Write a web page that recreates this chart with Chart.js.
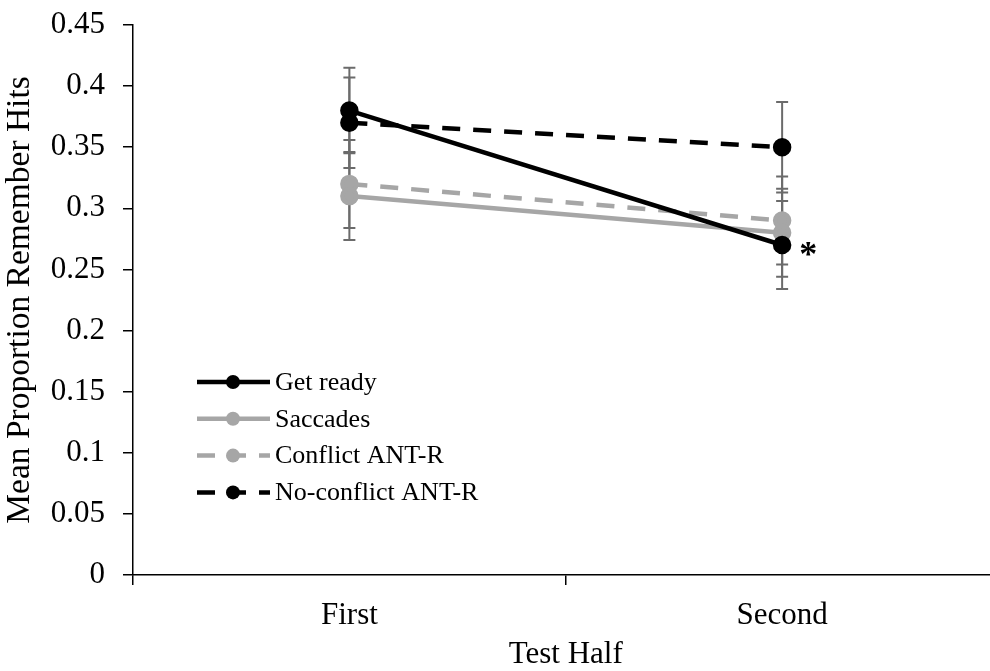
<!DOCTYPE html>
<html>
<head>
<meta charset="utf-8">
<script src="https://cdn.jsdelivr.net/npm/chart.js@4.4.1/dist/chart.umd.min.js"></script>
<style>
  html, body { margin: 0; padding: 0; background: #fff; overflow: hidden; }
  #wrap { width: 1010px; height: 671px; position: relative; }
</style>
</head>
<body>
<div id="wrap"><canvas id="chart"></canvas></div>
<script>
// Mean proportion of remember hits by test half

const categories = ['First', 'Second'];
const getReady = [0.38, 0.27];
const saccades = [0.31, 0.28];
const conflictAnt = [0.32, 0.29];
const noConflictAnt = [0.37, 0.35];

// error bar half-lengths (same order as above)
const getReadyErr = [0.035, 0.036];
const saccadesErr = [0.036, 0.036];
const conflictAntErr = [0.036, 0.036];
const noConflictAntErr = [0.037, 0.037];

const yTicks = [0, 0.05, 0.1, 0.15, 0.2, 0.25, 0.3, 0.35, 0.4, 0.45];

const FONT = "'Liberation Serif', 'Times New Roman', serif";
const GRAY = '#a6a6a6';

function series(label, data, err, color, dashed) {
  return {
    label: label,
    data: data,
    errors: err,
    borderColor: color,
    backgroundColor: color,
    pointBackgroundColor: color,
    pointBorderColor: color,
    borderWidth: 4.5,
    borderDash: dashed ? [18, 13] : [],
    pointRadius: 7,
    pointHoverRadius: 7,
    tension: 0,
    fill: false
  };
}

const errorBars = {
  id: 'errorBars',
  beforeDatasetsDraw(chart) {
    const ctx = chart.ctx;
    const y = chart.scales.y;
    ctx.save();
    ctx.strokeStyle = '#6b6b6b';
    ctx.lineWidth = 2;
    chart.data.datasets.forEach((ds, i) => {
      const meta = chart.getDatasetMeta(i);
      meta.data.forEach((pt, j) => {
        const v = ds.data[j], e = ds.errors[j];
        const top = y.getPixelForValue(v + e);
        const bot = y.getPixelForValue(v - e);
        ctx.beginPath();
        ctx.moveTo(pt.x, top); ctx.lineTo(pt.x, bot);
        ctx.moveTo(pt.x - 6, top); ctx.lineTo(pt.x + 6, top);
        ctx.moveTo(pt.x - 6, bot); ctx.lineTo(pt.x + 6, bot);
        ctx.stroke();
      });
    });
    ctx.restore();
  }
};

const extras = {
  id: 'extras',
  afterDraw(chart) {
    const ctx = chart.ctx;
    const area = chart.chartArea;
    ctx.save();
    // legend
    const x0 = area.left + 64, rowY = 382, step = 36.8;
    chart.data.datasets.forEach((ds, i) => {
      const yy = rowY + i * step;
      ctx.strokeStyle = ds.borderColor;
      ctx.fillStyle = ds.borderColor;
      ctx.lineWidth = 4.5;
      ctx.setLineDash(ds.borderDash);
      ctx.beginPath();
      ctx.moveTo(x0, yy); ctx.lineTo(x0 + 73, yy);
      ctx.stroke();
      ctx.setLineDash([]);
      ctx.beginPath();
      ctx.arc(x0 + 36, yy, 7, 0, Math.PI * 2);
      ctx.fill();
      ctx.fillStyle = '#000';
      ctx.font = '26px ' + FONT;
      ctx.textBaseline = 'middle';
      ctx.textAlign = 'left';
      ctx.fillText(ds.label, x0 + 78, yy + 1);
    });
    // significance mark next to Get ready, second half
    const p = chart.getDatasetMeta(0).data[1];
    ctx.fillStyle = '#000';
    ctx.font = 'bold 36px ' + FONT;
    ctx.textBaseline = 'alphabetic';
    ctx.textAlign = 'center';
    ctx.fillText('*', p.x + 26, p.y + 21);
    ctx.restore();
  }
};

new Chart(document.getElementById('chart'), {
  type: 'line',
  data: {
    labels: categories,
    datasets: [
      series('Get ready', getReady, getReadyErr, '#000000', false),
      series('Saccades', saccades, saccadesErr, GRAY, false),
      series('Conflict ANT-R', conflictAnt, conflictAntErr, GRAY, true),
      series('No-conflict ANT-R', noConflictAnt, noConflictAntErr, '#000000', true)
    ]
  },
  options: {
    responsive: true,
    maintainAspectRatio: false,
    animation: false,
    layout: { padding: { top: 25, right: 11, left: 0, bottom: 0 } },
    plugins: {
      legend: { display: false },
      tooltip: { enabled: false }
    },
    scales: {
      x: {
        type: 'category',
        offset: true,
        grid: { display: true, offset: true, drawOnChartArea: false, tickLength: 10, color: '#000', lineWidth: 1.5 },
        border: { color: '#000', width: 1.5 },
        ticks: { color: '#000', font: { family: FONT, size: 31 }, padding: 12 },
        title: { display: true, text: 'Test Half', color: '#000', font: { family: FONT, size: 31 }, padding: { top: 16, bottom: -2 } },
        afterFit(scale) { scale.height = 96; scale.paddingLeft = 0; scale.paddingRight = 0; }
      },
      y: {
        min: 0,
        max: 0.45,
        afterBuildTicks(scale) { scale.ticks = yTicks.map(v => ({ value: v })); },
        grid: { display: true, drawOnChartArea: false, tickLength: 10, color: '#000', lineWidth: 1.5 },
        border: { color: '#000', width: 1.5 },
        ticks: {
          color: '#000',
          font: { family: FONT, size: 31 },
          padding: 18,
          callback: v => String(+v.toFixed(2))
        },
        title: { display: true, text: 'Mean Proportion Remember Hits', color: '#000', font: { family: FONT, size: 33.5 }, padding: { top: 0, bottom: 0 } },
        afterFit(scale) { scale.width = 133; scale.paddingTop = 0; scale.paddingBottom = 0; }
      }
    }
  },
  plugins: [errorBars, extras]
});
</script>
</body>
</html>
